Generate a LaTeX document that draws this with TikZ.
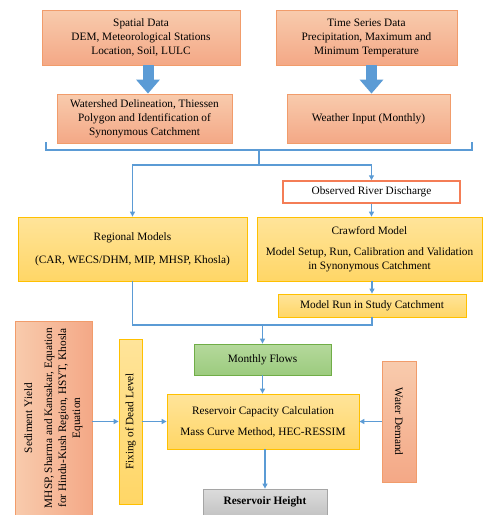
\documentclass[tikz,border=0pt]{standalone}
\usepackage{fontspec}
\setmainfont{Liberation Serif}
\usetikzlibrary{arrows.meta}
\definecolor{ored}{HTML}{F4A886}
\definecolor{olight}{HTML}{F8CBAD}
\definecolor{oline}{HTML}{F19C6B}
\definecolor{ylight}{HTML}{FFE49A}
\definecolor{ydark}{HTML}{FFD666}
\definecolor{yline}{HTML}{FFC000}
\definecolor{glight}{HTML}{B5D99C}
\definecolor{gdark}{HTML}{9CCB7E}
\definecolor{gline}{HTML}{70AD47}
\definecolor{blight}{HTML}{DCDCDC}
\definecolor{bdark}{HTML}{C4C4C4}
\definecolor{bline}{HTML}{A5A5A5}
\definecolor{flowblue}{HTML}{5B9BD5}
\begin{document}
\begin{tikzpicture}[x=1pt,y=-1pt,
  font=\fontsize{11.3}{14}\selectfont,
  box/.style={inner sep=1pt,align=center,line width=0.8pt},
  obox/.style={box,draw=oline,top color=olight,bottom color=ored},
  ybox/.style={box,draw=yline,top color=ylight,bottom color=ydark},
  gbox/.style={box,draw=gline,top color=glight,bottom color=gdark},
  kbox/.style={box,draw=bline,top color=blight,bottom color=bdark},
  wbox/.style={box,draw=oline!80!red,line width=1.5pt,fill=white},
  bigarrow/.style={draw=flowblue!85!black,line width=11pt,flowblue,-{Triangle[length=14pt,width=23pt]}},
  link/.style={draw=flowblue,line width=1.4pt},
  flow/.style={link,-{Triangle[length=5pt,width=5pt]}}]
\useasboundingbox (0,0) rectangle (483,515);
\node[obox,minimum width=198pt,minimum height=55pt] (sd) at (141,37.5)
  {Spatial Data\\DEM, Meteorological Stations\\Location, Soil, LULC};
\node[obox,minimum width=181pt,minimum height=55pt] (ts) at (366.5,37.5)
  {Time Series Data\\Precipitation, Maximum and\\Minimum Temperature};
\node[obox,minimum width=175pt,minimum height=49pt] (ws) at (144.5,118.5)
  {Watershed Delineation, Thiessen\\Polygon and Identification of\\Synonymous Catchment};
\node[obox,minimum width=163pt,minimum height=49pt] (wi) at (368.5,118.5)
  {Weather Input (Monthly)};
\node[wbox,minimum width=177pt,minimum height=22pt] (ord) at (371.5,192)
  {Observed River Discharge};
\node[ybox,minimum width=229pt,minimum height=64pt] (rm) at (132.5,249)
  {Regional Models\\[9pt](CAR, WECS/DHM, MIP, MHSP, Khosla)};
\node[ybox,minimum width=225pt,minimum height=64pt] (cm) at (369.5,249)
  {Crawford Model\\[7pt]Model Setup, Run, Calibration and Validation\\in Synonymous Catchment};
\node[ybox,minimum width=188pt,minimum height=23pt] (mr) at (372,305.5)
  {Model Run in Study Catchment};
\node[obox,rotate=90,shading angle=90,left color=olight,right color=ored,minimum width=194pt,minimum height=77pt] (sy) at (53.5,418)
  {Sediment Yield\\[6pt]MHSP, Sharma and Kansakar, Equation\\for Hindu-Kush Region, HSYT, Khosla\\Equation};
\node[ybox,rotate=90,minimum width=165pt,minimum height=23pt] (fdl) at (130.5,421.5)
  {Fixing of Dead Level};
\node[gbox,minimum width=137pt,minimum height=31pt] (mf) at (262.5,359.5)
  {Monthly Flows};
\node[ybox,minimum width=192pt,minimum height=55pt] (rc) at (263,421.5)
  {Reservoir Capacity Calculation\\[7pt]Mass Curve Method, HEC-RESSIM};
\node[obox,rotate=-90,minimum width=121pt,minimum height=34pt] (wd) at (399,421.5)
  {Water Demand};
\node[kbox,minimum width=124pt,minimum height=26pt,font=\fontsize{11.3}{14}\selectfont\bfseries] (rh) at (265,502)
  {Reservoir Height};
% block arrows
\draw[bigarrow] ([xshift=7pt]sd.south) -- ([xshift=7pt]sd.south |- ws.north);
\draw[bigarrow] ([xshift=5pt]ts.south) -- ([xshift=5pt]ts.south |- wi.north);
% bracket and branches
\coordinate (j1) at (259,150);
\coordinate (j2) at (259,165);
\coordinate (j3) at (262.5,325);
\draw[link] (46,142) |- (472,150) -- (472,142);
\draw[link] (j1) -- (j2);
\draw[flow] (j2) -| (rm.north);
\draw[flow] (j2) -| (ord.north);
\draw[flow] (ord.south) -- (ord.south |- cm.north);
\draw[flow] (cm.south -| mr.north) -- (mr.north);
\draw[link] (rm.south) |- (j3) -| (mr.south);
\draw[flow] (j3) -- (mf.north);
\draw[flow] (mf.south) -- (mf.south |- rc.north);
\draw[flow] (sy.south |- rc.west) -- (fdl.north);
\draw[flow] (fdl.south) -- (rc.west);
\draw[flow] (wd.south) -- (rc.east);
\draw[flow] (rc.south -| rh.north) -- (rh.north);
\end{tikzpicture}
\end{document}
